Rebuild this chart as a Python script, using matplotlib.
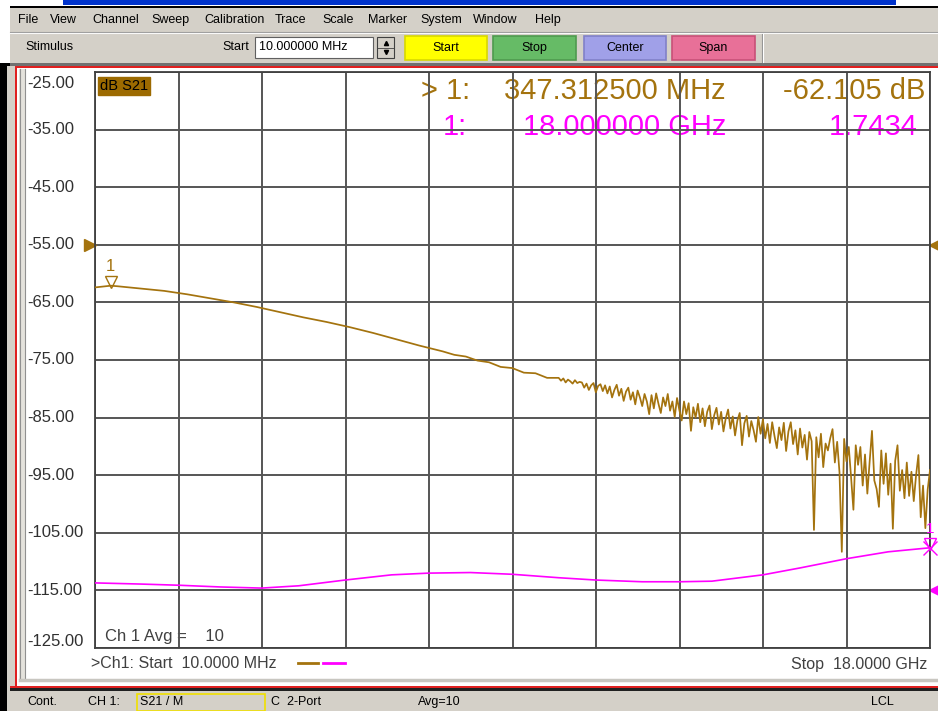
import matplotlib
matplotlib.use("Agg")
import matplotlib.pyplot as plt
import matplotlib.patches as mpatches
from matplotlib.transforms import blended_transform_factory, offset_copy
import numpy as np

plt.rcParams['font.family'] = ['Liberation Sans', 'DejaVu Sans']

# sweep range, GHz
f_start = 0.01
f_stop = 18.0

# S21 (dB), smooth part of the sweep
s21_smooth_freq = [0.01, 0.35, 0.5, 1.0, 1.5, 2.0, 2.5, 3.0, 3.5, 4.0, 4.5, 5.0,
                   5.5, 6.0, 6.5, 7.0, 7.5, 7.75, 8.0, 8.25, 8.5, 8.75, 9.0,
                   9.25, 9.5, 9.75]
s21_smooth_db = [-62.4, -62.1, -62.2, -62.6, -63.0, -63.6, -64.3, -65.0, -65.8,
                 -66.7, -67.6, -68.4, -69.3, -70.3, -71.4, -72.5, -73.5, -74.1,
                 -74.4, -75.1, -75.4, -76.2, -76.4, -77.2, -77.3, -78.1]

# S21 (dB), noisy part, 10.0 .. 18.0 GHz every 50 MHz
s21_noisy_db = [
    -78.1, -78.6, -78.2, -78.9, -78.4, -78.7, -79.1, -78.5, -79.0, -78.8,
    -78.9, -79.8, -79.1, -80.2, -79.4, -79.0, -80.6, -79.5, -79.2, -80.4,
    -79.4, -80.8, -79.6, -81.5, -80.2, -79.3, -81.2, -80.0, -82.1, -80.5,
    -79.8, -81.9, -80.6, -82.7, -80.3, -81.5, -83.0, -80.9, -82.2, -84.4,
    -81.1, -83.4, -80.8, -82.6, -84.2, -81.5, -83.0, -80.9, -83.8, -82.2,
    -84.9, -81.6, -83.7, -85.5, -82.2, -84.4, -82.5, -87.3, -83.2, -85.0,
    -82.6, -85.8, -83.4, -86.5, -84.0, -82.9, -87.0, -84.6, -83.3, -86.2,
    -84.0, -87.4, -85.1, -83.6, -86.9, -84.8, -88.1, -85.5, -84.2, -89.8,
    -86.0, -84.7, -88.3, -85.6, -87.2, -89.2, -84.9, -87.8, -85.3, -88.6,
    -86.1, -89.4, -85.8, -88.2, -90.3, -86.7, -88.9, -85.9, -90.8, -87.4,
    -85.8, -89.6, -87.2, -91.4, -86.9, -90.2, -88.0, -92.3, -87.5, -89.1,
    -104.5, -88.4, -91.9, -87.8, -93.6, -89.5, -90.7, -88.6, -87.0, -92.8,
    -89.2, -94.5, -108.3, -88.7, -92.6, -90.1, -95.4, -101.0, -89.8, -93.2,
    -90.1, -96.8, -91.4, -98.2, -92.6, -87.3, -95.9, -97.4, -100.5, -90.7,
    -96.5, -91.2, -98.4, -93.0, -104.3, -92.5, -89.8, -97.7, -94.1, -99.0,
    -92.8, -98.6, -94.4, -99.5, -95.0, -91.5, -102.3, -96.8, -104.2, -97.5,
    -94.1,
]
s21_noisy_freq = np.linspace(10.0, 18.0, len(s21_noisy_db))

# second trace (magenta)
mag_freq = [0.01, 1.0, 1.8, 2.7, 3.6, 4.4, 5.4, 6.4, 7.2, 8.1, 9.0, 10.0, 10.8,
            11.8, 12.6, 13.3, 13.9, 14.4, 15.2, 16.2, 17.1, 18.0]
mag_db = [-113.7, -113.9, -114.1, -114.4, -114.6, -114.2, -113.2, -112.3,
          -112.0, -111.9, -112.2, -112.8, -113.2, -113.5, -113.5, -113.4,
          -112.8, -112.3, -111.1, -109.5, -108.3, -107.6]

# markers
m1_freq = 0.3473125
m1_db = -62.105
m2_freq = 18.0
m2_db = -107.6

y_ticks = [-25, -35, -45, -55, -65, -75, -85, -95, -105, -115, -125]
ref_level = -55
ref_level_2 = -115

menu_items = ['File', 'View', 'Channel', 'Sweep', 'Calibration', 'Trace',
              'Scale', 'Marker', 'System', 'Window', 'Help']
buttons = ['Start', 'Stop', 'Center', 'Span']

brown = '#A4730E'
magenta = '#FF00FF'
gray_ui = '#D4D0C8'

fig = plt.figure(figsize=(9.38, 7.11), dpi=100)

# ---- window chrome, drawn in pixel coordinates ----
bg = fig.add_axes([0, 0, 1, 1])
bg.set_xlim(0, 938)
bg.set_ylim(711, 0)
bg.axis('off')

def rect(x0, y0, x1, y1, fc, ec='none', lw=0, z=1):
    bg.add_patch(mpatches.Rectangle((x0, y0), x1 - x0, y1 - y0, fc=fc, ec=ec, lw=lw, zorder=z))

rect(0, 0, 938, 711, 'white', z=0)
rect(63, 0, 896, 5, '#0033CC')
rect(10, 5.5, 938, 8, 'black')
rect(10, 8, 938, 63, gray_ui)
bg.plot([10, 938], [32.5, 32.5], color='white', lw=0.8, zorder=2)
bg.plot([10, 938], [31.5, 31.5], color='#A0A0A0', lw=0.8, zorder=2)
rect(0, 63, 10, 711, 'black')
rect(10, 63, 938, 66, '#707070')
rect(10, 66, 938, 68, '#E02020')
rect(7, 66, 15, 711, gray_ui)
rect(15, 66, 17, 688, '#E02020')
rect(10, 686, 938, 688, '#E02020')
rect(10, 688, 938, 691, '#202020')
rect(7, 691, 938, 711, gray_ui)
rect(19, 69, 25, 680, '#E4E2DC')
bg.plot([19.5, 19.5], [69, 680], color='#909090', lw=0.8, zorder=2)
bg.plot([25, 25], [69, 680], color='#909090', lw=0.8, zorder=2)
bg.plot([19.5, 938], [679.5, 679.5], color='#C8C6C0', lw=2.5, zorder=2)

menu_x = [18, 50, 92, 151, 204, 275, 322, 368, 420, 473, 535]
for label, x in zip(menu_items, menu_x):
    bg.text(x, 20, label, fontsize=9, va='center', ha='left', color='black')

bg.text(25, 47, 'Stimulus', fontsize=9, va='center')
bg.text(222, 47, 'Start', fontsize=9, va='center')
rect(255, 37, 373, 58, 'white', ec='#606060', lw=0.8, z=2)
bg.text(259, 47, '10.000000 MHz', fontsize=9, va='center', zorder=3)
rect(377, 37, 394, 58, gray_ui, ec='#404040', lw=0.8, z=2)
bg.plot([377, 394], [47.5, 47.5], color='#404040', lw=0.6, zorder=3)
bg.plot([385.5], [43], marker='^', ms=3, color='black', zorder=3)
bg.plot([385.5], [52], marker='v', ms=3, color='black', zorder=3)

button_x = [(405, 487), (493, 576), (584, 666), (672, 755)]
button_fc = ['#FFFF00', '#66BB66', '#A0A0E8', '#E87098']
button_ec = ['#D8D800', '#4E9A4E', '#8080C8', '#C85078']
for label, (x0, x1), fc, ec in zip(buttons, button_x, button_fc, button_ec):
    rect(x0, 36, x1, 60, fc, ec=ec, lw=1.2, z=2)
    bg.text((x0 + x1) / 2, 48, label, fontsize=9, ha='center', va='center', zorder=3)
bg.plot([762, 762], [34, 62], color='#909090', lw=0.8)
bg.plot([763, 763], [34, 62], color='white', lw=0.8)

# status bar
bg.text(27, 702, 'Cont.', fontsize=9, va='center')
bg.text(88, 702, 'CH 1:', fontsize=9, va='center')
rect(137, 693.5, 265, 711, 'none', ec='#F0E000', lw=1.2, z=2)
bg.text(140, 702, 'S21 / M', fontsize=9, va='center')
bg.text(271, 702, 'C  2-Port', fontsize=9, va='center')
bg.text(418, 702, 'Avg=10', fontsize=9, va='center')
bg.text(871, 702, 'LCL', fontsize=9, va='center')

# ---- measurement grid ----
ax = fig.add_axes([95 / 938, 1 - 648 / 711, 835 / 938, 576 / 711])
ax.set_xlim(f_start, f_stop)
ax.set_ylim(y_ticks[-1], y_ticks[0])
ax.set_xticks(np.linspace(f_start, f_stop, 11))
ax.set_yticks(y_ticks)
ax.grid(True, color='#555555', lw=1.4)
ax.tick_params(length=0, labelleft=False, labelbottom=False)
for sp in ax.spines.values():
    sp.set_color('#404040')
    sp.set_linewidth(1.3)
ax.patch.set_alpha(0)

freq = np.concatenate([s21_smooth_freq, s21_noisy_freq])
s21 = np.concatenate([s21_smooth_db, s21_noisy_db])
ax.plot(freq, s21, color=brown, lw=1.25, zorder=3)
ax.plot(mag_freq, mag_db, color=magenta, lw=1.2, zorder=3)

# markers
up5 = offset_copy(ax.transData, fig=fig, y=4, units='dots')
ax.plot([m1_freq], [m1_db], transform=up5, marker='v', ms=9, mfc='none',
        mec=brown, mew=1.0, clip_on=False, zorder=4)
ax.text(m1_freq, m1_db, '1', transform=offset_copy(ax.transData, fig=fig, y=12, units='dots'),
        color=brown, fontsize=12, ha='center', va='bottom')
ax.plot([m2_freq], [m2_db], transform=up5, marker='v', ms=9, mfc='none',
        mec=magenta, mew=1.0, clip_on=False, zorder=4)
ax.plot([m2_freq], [m2_db], marker='x', ms=10, color=magenta, mew=1.0,
        clip_on=False, zorder=4)
ax.text(m2_freq, m2_db, '1', transform=offset_copy(ax.transData, fig=fig, y=12, units='dots'),
        color=magenta, fontsize=11, ha='center', va='bottom')

# reference level arrows
tr = blended_transform_factory(bg.transData, ax.transData)
ax.plot([90], [ref_level], transform=tr, marker='>', ms=8, color=brown, clip_on=False)
ax.plot([935], [ref_level], transform=tr, marker='<', ms=8, color=brown, clip_on=False)
ax.plot([935], [ref_level_2], transform=tr, marker='<', ms=8, color=magenta, clip_on=False)

# scale labels on the left
for v in y_ticks:
    dy = 0
    if v == y_ticks[0]:
        dy = 11
    if v == y_ticks[-1]:
        dy = -6
    ax.text(27, v, f'{v:.2f}', transform=offset_copy(tr, fig=fig, y=-dy, units='dots'),
            fontsize=12, color='#303030', ha='left', va='center')

# trace title box
bg.text(100, 86, 'dB S21', fontsize=10.5, va='center', ha='left', color='black',
        bbox=dict(boxstyle='square,pad=0.15', fc='#9C6A00', ec='#9C6A00'))

# marker readout
bg.text(421, 91, '> 1:', fontsize=21, color=brown, va='center')
bg.text(726, 91, '347.312500 MHz', fontsize=21, color=brown, va='center', ha='right')
bg.text(925, 91, '-62.105 dB', fontsize=21, color=brown, va='center', ha='right')
bg.text(467, 127, '1:', fontsize=21, color=magenta, va='center', ha='right')
bg.text(726, 127, '18.000000 GHz', fontsize=21, color=magenta, va='center', ha='right')
bg.text(918, 127, '1.7434', fontsize=21, color=magenta, va='center', ha='right')

# footer texts
bg.text(105, 636, 'Ch 1 Avg =    10', fontsize=12, color='#404040', va='center')
bg.text(91, 664, '>Ch1: Start  10.0000 MHz', fontsize=11.5, color='#404040', va='center')
bg.plot([298, 318], [663, 663], color=brown, lw=2)
bg.plot([323, 345], [663, 663], color=magenta, lw=2)
bg.text(927, 664, 'Stop  18.0000 GHz', fontsize=11.5, color='#404040', va='center', ha='right')

fig.savefig('out.png', dpi=100)
